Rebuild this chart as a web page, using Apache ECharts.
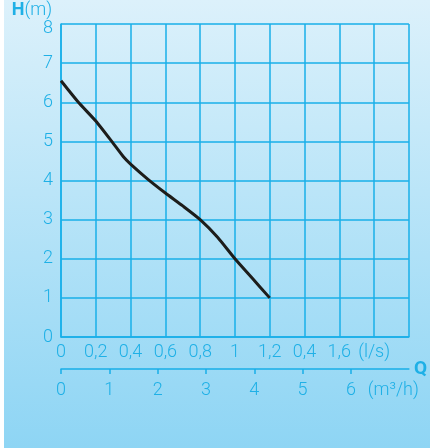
<!DOCTYPE html>
<html>
<head>
<meta charset="utf-8">
<script src="https://cdn.jsdelivr.net/npm/echarts@6/dist/echarts.min.js"></script>
<style>
html,body{margin:0;padding:0;background:#fff;}
#c{width:430px;height:448px;
background:linear-gradient(to right,#ffffff 0,#ffffff 4px,transparent 4px),linear-gradient(to bottom,#dcf1fb 0%,#8ed5f4 100%);}
</style>
</head>
<body>
<div id="c"></div>
<script>
// Data (Q in l/s, H in m)
const flowLs = [0, 0.1, 0.2, 0.3, 0.36, 0.4, 0.5, 0.6, 0.7, 0.8, 0.9, 1.0, 1.1, 1.2];
const headM  = [6.55, 6.0, 5.52, 4.95, 4.6, 4.42, 4.03, 3.68, 3.35, 3.0, 2.55, 2.0, 1.5, 1.0];

// Tick labels
const lsTickLabels  = ['0', '0,2', '0,4', '0,6', '0,8', '1', '1,2', '0,4', '1,6', '(l/s)', ''];
const m3hTickValues = [0, 1, 2, 3, 4, 5, 6];
const m3hLabelValues = [0, 1, 2, 3, 4, 5, 6, 7];
const m3hTickLabels = ['0', '1', '2', '3', '4', '5', '6', '(m³/h)'];
const hTickLabels   = ['0', '1', '2', '3', '4', '5', '6', '7', '8'];

const BLUE = '#18afe8';
const TXT = '#1fb0e6';
const FONT = 'Roboto';

const chart = echarts.init(document.getElementById('c'), null, {renderer: 'canvas'});
chart.setOption({
  backgroundColor: 'transparent',
  animation: false,
  grid: {left: 61, top: 24, width: 348, height: 313, containLabel: false},
  xAxis: [{
    type: 'value', min: 0, max: 2, interval: 0.2,
    axisLine: {show: true, lineStyle: {color: BLUE, width: 1.5}},
    axisTick: {show: false},
    splitLine: {show: true, lineStyle: {color: BLUE, width: 1.5}},
    axisLabel: {
      margin: 6, color: TXT, fontSize: 18, fontFamily: FONT, fontWeight: 300,
      showMaxLabel: true, showMinLabel: true,
      formatter: (v) => lsTickLabels[Math.round(v / 0.2)] || ''
    }
  }, {
    type: 'value', min: 0, max: 7.2, position: 'bottom', offset: 32,
    axisLine: {show: true, lineStyle: {color: BLUE, width: 1.5}},
    axisTick: {show: true, length: 5, inside: false, customValues: m3hTickValues, lineStyle: {color: BLUE, width: 1.5}},
    splitLine: {show: false},
    axisLabel: {
      margin: 12, color: TXT, fontSize: 18, fontFamily: FONT, fontWeight: 300,
      customValues: m3hLabelValues,
      formatter: (v) => {
        const i = m3hLabelValues.indexOf(Math.round(v));
        const s = m3hTickLabels[i];
        return i === m3hLabelValues.length - 1 ? '{u|' + s + '}' : s;
      },
      rich: {u: {color: TXT, fontSize: 18, fontFamily: FONT, fontWeight: 300, padding: [0, 12, 0, 0]}}
    },
    name: 'Q', nameLocation: 'end', nameGap: 5,
    nameTextStyle: {color: TXT, fontSize: 19, fontWeight: 'bold', fontFamily: FONT, verticalAlign: 'middle'}
  }],
  yAxis: {
    type: 'value', min: 0, max: 8, interval: 1,
    axisLine: {show: true, lineStyle: {color: BLUE, width: 1.5}},
    axisTick: {show: false},
    splitLine: {show: true, lineStyle: {color: BLUE, width: 1.5}},
    axisLabel: {
      margin: 8, color: TXT, fontSize: 18, fontFamily: FONT, fontWeight: 300,
      formatter: (v) => {
        const s = hTickLabels[Math.round(v)];
        return v === 8 ? '{t|' + s + '}' : s;
      },
      rich: {t: {color: TXT, fontSize: 18, fontFamily: FONT, fontWeight: 300, padding: [8, 0, 0, 0]}}
    },
    name: '{b|H}(m)', nameLocation: 'end', nameGap: -21,
    nameTextStyle: {
      color: TXT, fontSize: 18, fontFamily: FONT, fontWeight: 300, lineHeight: 12,
      align: 'right', verticalAlign: 'middle', padding: [0, 9, 0, 0],
      rich: {b: {color: TXT, fontSize: 18, fontFamily: FONT, fontWeight: 'bold', lineHeight: 12}}
    }
  },
  series: [{
    type: 'line', xAxisIndex: 0, yAxisIndex: 0,
    data: flowLs.map((q, i) => [q, headM[i]]),
    showSymbol: false, symbol: 'none', smooth: 0.2,
    lineStyle: {color: '#1d1d1b', width: 3}
  }]
});
</script>
</body>
</html>
